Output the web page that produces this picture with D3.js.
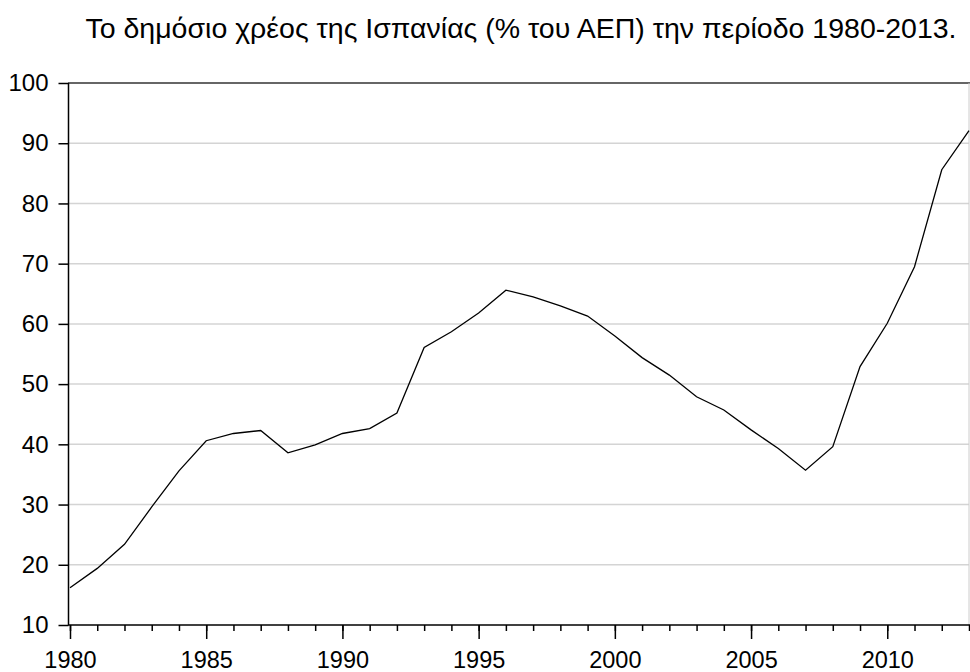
<html>
  <head>
    <meta charset="utf-8">
    <title>Δημόσιο χρέος Ισπανίας</title>
    <script src="https://cdn.jsdelivr.net/npm/d3@7"></script>
    <style>
      body { margin: 0; background: #fff; }
      text { font-family: "Liberation Sans", Arial, sans-serif; fill: #000; }
    </style>
  </head>
  <body>
    <script>
// Δεδομένα (διαβασμένα από το διάγραμμα)
const years = [1980, 1981, 1982, 1983, 1984, 1985, 1986, 1987, 1988, 1989,
               1990, 1991, 1992, 1993, 1994, 1995, 1996, 1997, 1998, 1999,
               2000, 2001, 2002, 2003, 2004, 2005, 2006, 2007, 2008, 2009,
               2010, 2011, 2012, 2013];
const debt = [16.2, 19.4, 23.4, 29.6, 35.6, 40.6, 41.8, 42.3, 38.6, 39.9,
              41.8, 42.6, 45.2, 56.1, 58.7, 61.8, 65.6, 64.5, 63.0, 61.3,
              58.0, 54.4, 51.5, 47.9, 45.7, 42.4, 39.3, 35.7, 39.6, 52.9,
              60.1, 69.5, 85.6, 92.1];
const yTicks = [10, 20, 30, 40, 50, 60, 70, 80, 90, 100];
const xMajor = [1980, 1985, 1990, 1995, 2000, 2005, 2010];
const title = "Το δημόσιο χρέος της Ισπανίας (% του ΑΕΠ) την περίοδο 1980-2013.";

const w = 970;
const h = 672;

const svg = d3.select("body")
  .append("svg")
  .attr("width", w)
  .attr("height", h);

const x = d3.scaleLinear().domain([1980, 2013]).range([70, 969]);
const y = d3.scaleLinear().domain([10, 100]).range([625, 83]);

// titel
svg.append("text")
  .attr("x", 521)
  .attr("y", 38)
  .attr("text-anchor", "middle")
  .attr("font-size", "28.5px")
  .text(title);

// gridlines
svg.selectAll("line.grid")
  .data(yTicks.filter(d => d > 10 && d < 100))
  .enter()
  .append("line")
  .attr("class", "grid")
  .attr("x1", 69).attr("x2", 969)
  .attr("y1", d => y(d)).attr("y2", d => y(d))
  .attr("stroke", "#d4d4d4")
  .attr("stroke-width", 1.5);

// ramme: top + højre
svg.append("line")
  .attr("x1", 68).attr("x2", 970)
  .attr("y1", y(100)).attr("y2", y(100))
  .attr("stroke", "#333").attr("stroke-width", 1.5);
svg.append("line")
  .attr("x1", 969).attr("x2", 969)
  .attr("y1", y(100)).attr("y2", y(10))
  .attr("stroke", "#ccc").attr("stroke-width", 1);

// y-akse
const yAxis = d3.axisLeft(y)
  .tickValues(yTicks)
  .tickSize(10)
  .tickPadding(10);
const gy = svg.append("g")
  .attr("transform", "translate(68.5,0)")
  .call(yAxis);
gy.select(".domain").attr("stroke", "#000").attr("stroke-width", 1.5)
  .attr("d", "M0," + y(100) + "V" + y(10));
gy.selectAll(".tick line").attr("stroke", "#000").attr("stroke-width", 1.5);
gy.selectAll("text")
  .attr("font-size", "24px")
  .attr("font-family", "Liberation Sans, Arial, sans-serif")
  .attr("fill", "#000");

// x-akse: små ticks hvert år, store ved hvert 5. år
const xMinor = d3.axisBottom(x)
  .tickValues(years)
  .tickSize(6)
  .tickFormat("");
const gxm = svg.append("g")
  .attr("transform", "translate(0," + y(10) + ")")
  .call(xMinor);
gxm.select(".domain").attr("stroke", "#000").attr("stroke-width", 1.5)
  .attr("d", "M68," + 0 + "H970");
gxm.selectAll(".tick line").attr("stroke", "#000").attr("stroke-width", 1.5);

const xAxis = d3.axisBottom(x)
  .tickValues(xMajor)
  .tickSize(14)
  .tickPadding(12)
  .tickFormat(d3.format("d"));
const gx = svg.append("g")
  .attr("transform", "translate(0," + y(10) + ")")
  .call(xAxis);
gx.select(".domain").remove();
gx.selectAll(".tick line").attr("stroke", "#000").attr("stroke-width", 1.5);
gx.selectAll("text")
  .attr("font-size", "23.5px")
  .attr("font-family", "Liberation Sans, Arial, sans-serif")
  .attr("fill", "#000");

// linjen
const line = d3.line()
  .x((d, i) => x(years[i]))
  .y(d => y(d));
svg.append("path")
  .datum(debt)
  .attr("d", line)
  .attr("fill", "none")
  .attr("stroke", "#000")
  .attr("stroke-width", 1.3);
    </script>
  </body>
</html>
